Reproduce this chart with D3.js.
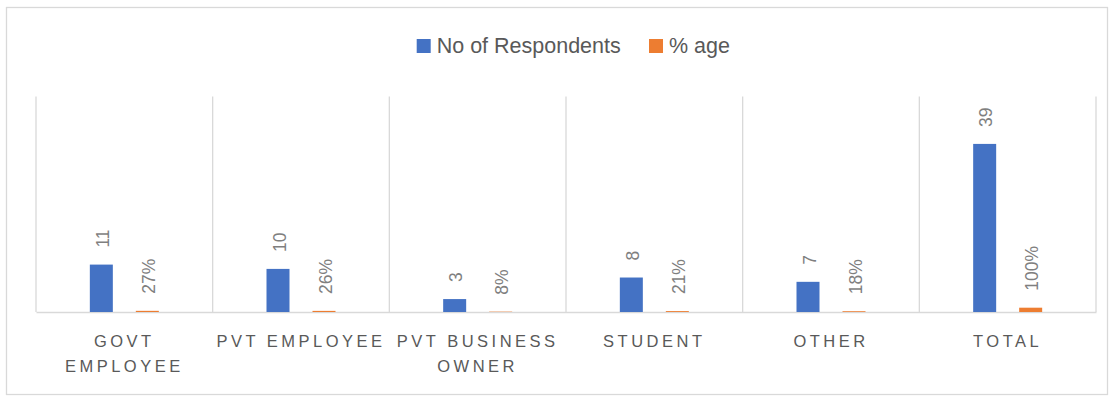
<!DOCTYPE html>
<html>
<head>
<meta charset="utf-8">
<script src="https://cdn.jsdelivr.net/npm/d3@7"></script>
<style>
  html, body { margin: 0; padding: 0; background: #fff; }
  svg { display: block; font-family: "Liberation Sans", Arial, sans-serif; }
</style>
</head>
<body>
<svg id="chart" width="1114" height="396"></svg>
<script>
// Occupation of respondents: head count and share of the total
const categories = ["GOVT EMPLOYEE", "PVT EMPLOYEE", "PVT BUSINESS OWNER", "STUDENT", "OTHER", "TOTAL"];
const respondents = [11, 10, 3, 8, 7, 39];
const percentAge = [0.27, 0.26, 0.08, 0.21, 0.18, 1.00];
const seriesNames = ["No of Respondents", "% age"];
const seriesColors = ["#4472C4", "#ED7D31"];
const yDomain = [0, 50];

const W = 1114, H = 396;
const plot = { left: 36, right: 1096, top: 96.5, bottom: 312 };

const svg = d3.select("#chart");

// outer chart frame
svg.append("rect")
  .attr("x", 6.5).attr("y", 7.5)
  .attr("width", 1101).attr("height", 387)
  .attr("fill", "#fff").attr("stroke", "#D9D9D9").attr("stroke-width", 1.3);

const x0 = d3.scaleBand().domain(categories).range([plot.left, plot.right]).padding(0);
const y = d3.scaleLinear().domain(yDomain).range([plot.bottom, plot.top]);

// two bars per category, separated by one bar width
const x1 = d3.scaleBand().domain(seriesNames).range([-34.5, 34.5]).paddingInner(0.5).paddingOuter(0);

// vertical separators between categories
const bounds = categories.map(c => x0(c)).concat([plot.right]);
svg.append("g").selectAll("line").data(bounds).join("line")
  .attr("x1", d => d).attr("x2", d => d)
  .attr("y1", plot.top).attr("y2", plot.bottom)
  .attr("stroke", "#D9D9D9").attr("stroke-width", 1.3);

// category axis
const xAxis = d3.axisBottom(x0).tickSize(0).tickPadding(0);
const axisG = svg.append("g").attr("transform", `translate(0,${plot.bottom})`).call(xAxis);
axisG.select(".domain").attr("stroke", "#D9D9D9").attr("stroke-width", 1.3);
axisG.selectAll(".tick text").remove();

// wrapped, letter-spaced category labels
const labelG = svg.append("g")
  .attr("font-size", 16.5).attr("fill", "#595959")
  .style("letter-spacing", "3.5px").attr("text-anchor", "middle");
categories.forEach(cat => {
  const cx = x0(cat) + x0.bandwidth() / 2;
  const t = labelG.append("text").attr("x", cx).attr("y", 346.5);
  const words = cat.split(" ");
  let line = [];
  let tspan = t.append("tspan").attr("x", cx).attr("dy", 0);
  let lineNo = 0;
  words.forEach(w => {
    line.push(w);
    tspan.text(line.join(" "));
    if (tspan.node().getComputedTextLength() > x0.bandwidth() - 4 && line.length > 1) {
      line.pop();
      tspan.text(line.join(" "));
      line = [w];
      lineNo++;
      tspan = t.append("tspan").attr("x", cx).attr("dy", 25).text(w);
    }
  });
});

// bars
const rows = categories.map((c, i) => ({ cat: c, vals: [respondents[i], percentAge[i]] }));
const fmt = [d3.format("d"), d3.format(".0%")];

const groups = svg.append("g").selectAll("g").data(rows).join("g")
  .attr("transform", d => `translate(${x0(d.cat) + x0.bandwidth() / 2},0)`);

groups.selectAll("rect").data(d => d.vals.map((v, k) => ({ v, k })))
  .join("rect")
  .attr("x", d => x1(seriesNames[d.k]))
  .attr("width", x1.bandwidth())
  .attr("y", d => y(d.v))
  .attr("height", d => y(0) - y(d.v))
  .attr("fill", d => seriesColors[d.k]);

// rotated value labels above each bar
groups.selectAll("text").data(d => d.vals.map((v, k) => ({ v, k })))
  .join("text")
  .attr("transform", d => `translate(${x1(seriesNames[d.k]) + x1.bandwidth() / 2 + 1.5},${y(d.v) - 17}) rotate(-90)`)
  .attr("dy", "0.35em")
  .attr("text-anchor", "start")
  .attr("font-size", 17.5)
  .attr("fill", "#7F7F7F")
  .text(d => fmt[d.k](d.v));

// legend
const legend = svg.append("g").attr("font-size", 21.5).attr("fill", "#595959");
const legendX = [416.7, 649];
seriesNames.forEach((s, k) => {
  legend.append("rect")
    .attr("x", legendX[k]).attr("y", 39)
    .attr("width", 14).attr("height", 14)
    .attr("fill", seriesColors[k]);
  legend.append("text")
    .attr("x", legendX[k] + 20).attr("y", 53)
    .text(s);
});
</script>
</body>
</html>
